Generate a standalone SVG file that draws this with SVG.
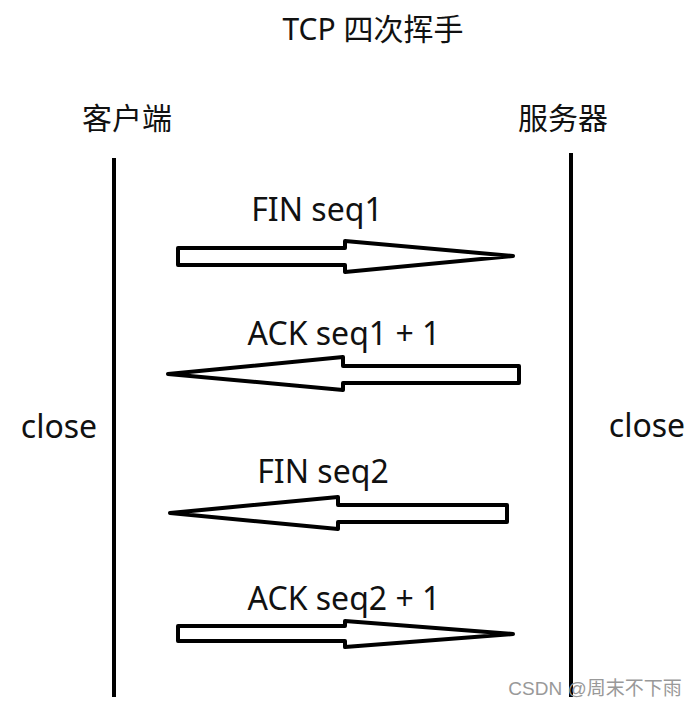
<svg xmlns="http://www.w3.org/2000/svg" width="697" height="706" viewBox="0 0 697 706">
<style>
.t{font-family:"Noto Sans","Noto Sans CJK SC",sans-serif;font-size:32px;fill:#111;text-anchor:middle}
.c{font-size:30px}
.ln{stroke:#000;stroke-width:4;fill:none}
.ar{stroke:#000;stroke-width:4;fill:#fff;stroke-linejoin:round}
</style>
<rect width="697" height="706" fill="#fff"/>
<text class="t" x="373" y="40" style="font-size:30px">TCP 四次挥手</text>
<g id="client">
<text class="t c" x="127" y="129">客户端</text>
<line class="ln" x1="114" y1="158" x2="114" y2="697"/>
<text class="t" x="59" y="438">close</text>
</g>
<g id="server">
<text class="t c" x="563" y="129">服务器</text>
<line class="ln" x1="571" y1="153" x2="571" y2="697"/>
<text class="t" x="647" y="437">close</text>
</g>
<g id="connectors">
<polygon class="ar" points="178,248 345,248 345,241 513,256 345,272 345,265 178,265"/>
<text class="t" x="317" y="221">FIN seq1</text>
<polygon class="ar" points="519,366 343,366 343,357 168,374 343,390 343,383 519,383"/>
<text class="t" x="344" y="345">ACK seq1 + 1</text>
<polygon class="ar" points="507,505 338,505 338,497 170,513 338,529 338,522 507,522"/>
<text class="t" x="323" y="483">FIN seq2</text>
<polygon class="ar" points="178,626 345,626 345,621 513,634 345,647 345,641 178,641"/>
<text class="t" x="344" y="610">ACK seq2 + 1</text>
</g>
<text x="595" y="695" style="font-family:'Liberation Sans','Noto Sans CJK SC',sans-serif;font-size:19px;fill:#999;text-anchor:middle">CSDN @周末不下雨</text>
</svg>
